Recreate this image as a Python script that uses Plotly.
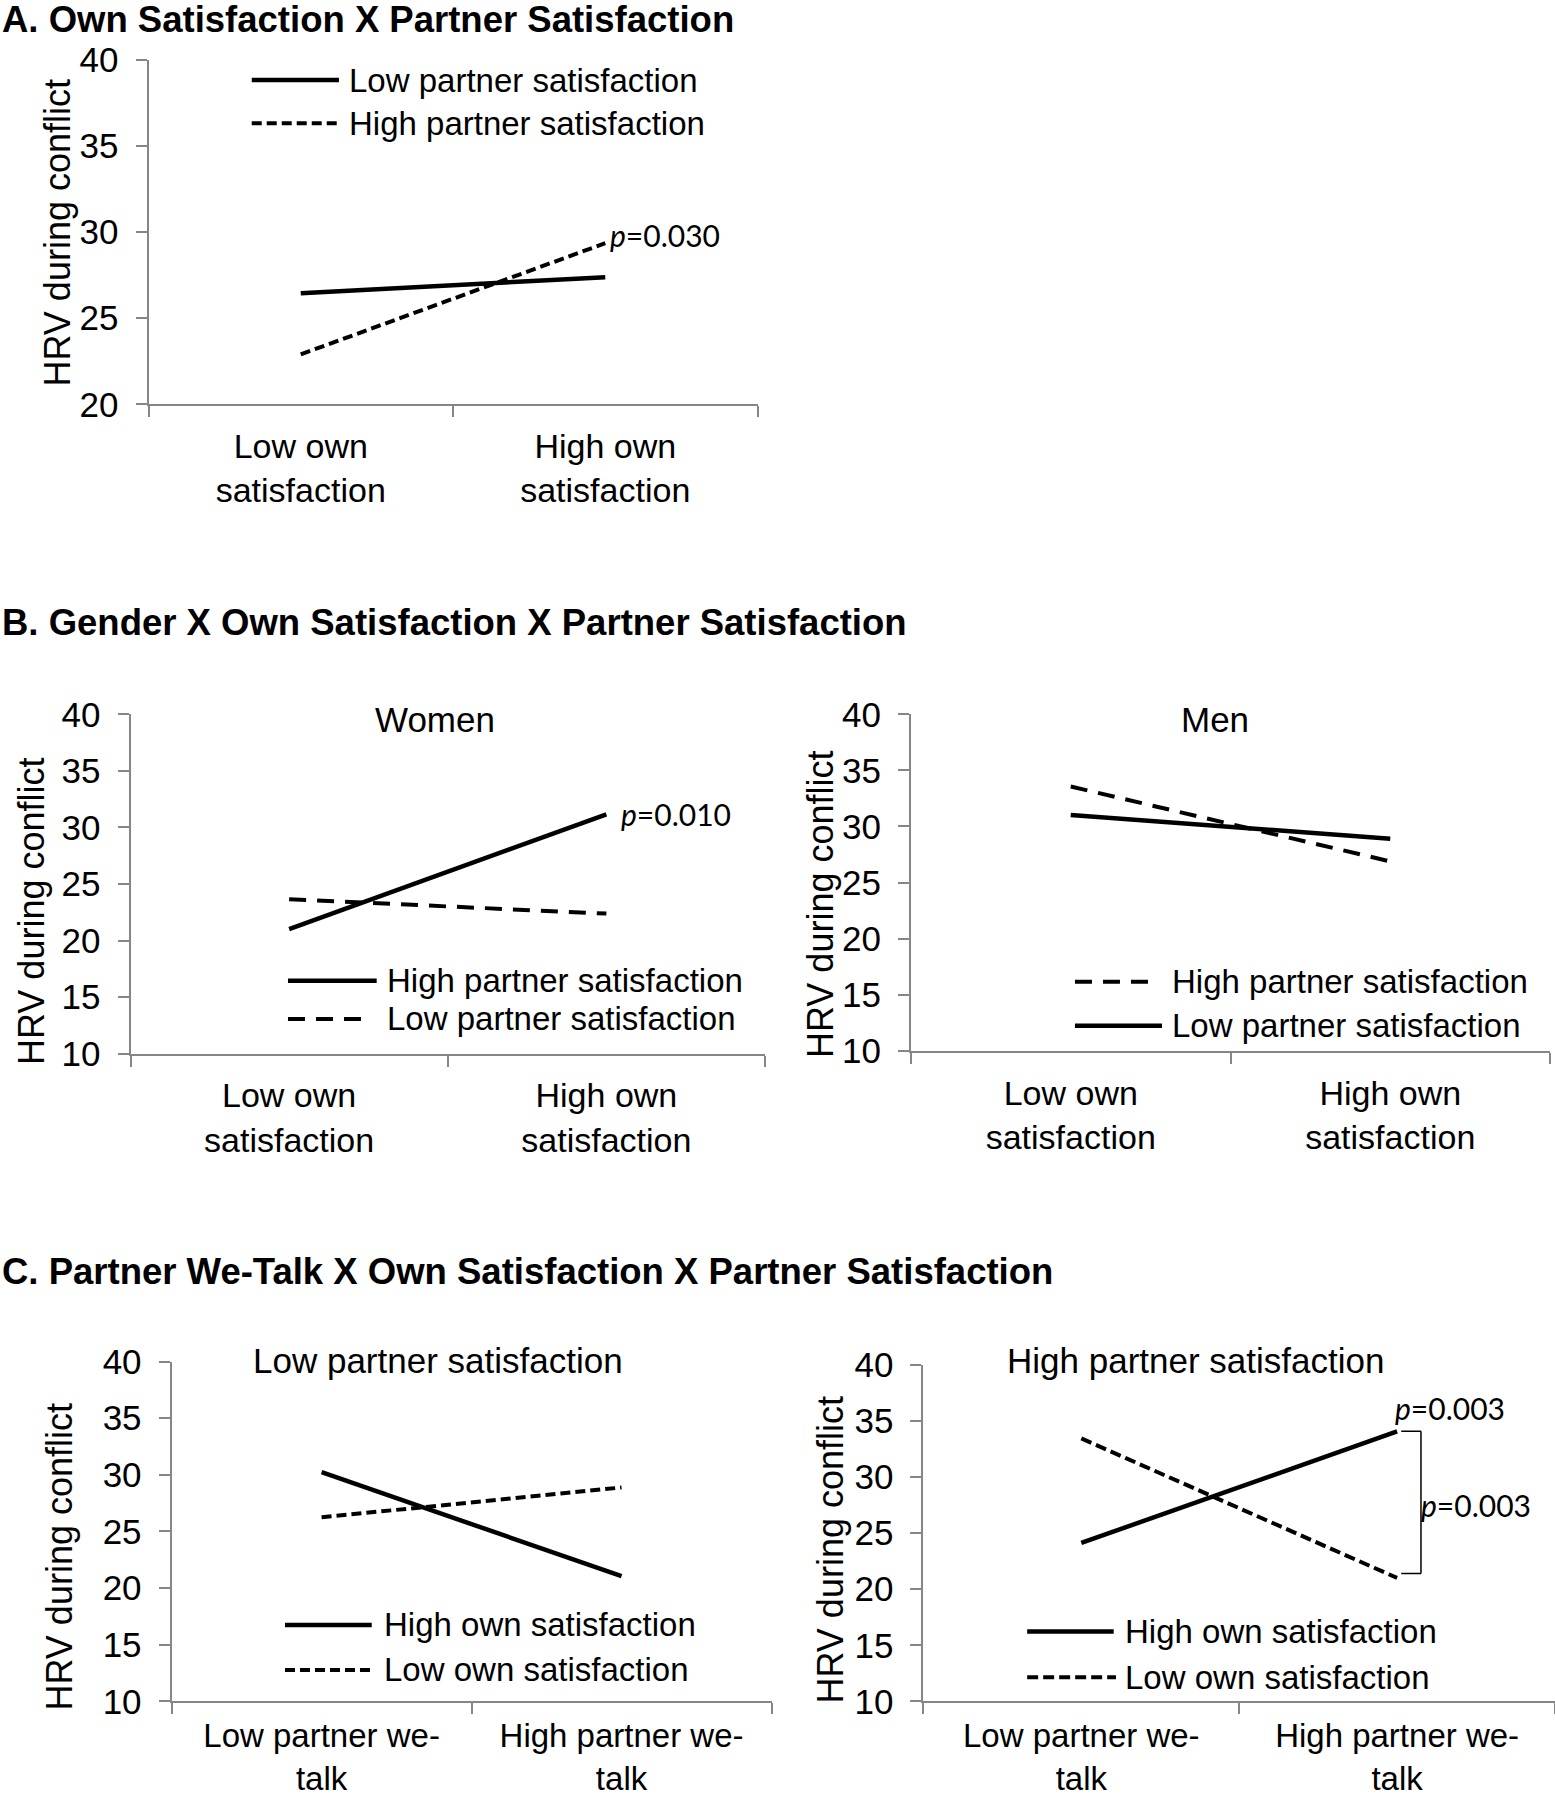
import plotly.graph_objects as go

# ---------------- data ----------------
own_cats = ["Low own<br>satisfaction", "High own<br>satisfaction"]
wetalk_cats = ["Low partner we-<br>talk", "High partner we-<br>talk"]

a_low_partner = [26.45, 27.38]
a_high_partner = [22.90, 29.36]

women_high_partner = [21.00, 31.16]
women_low_partner = [23.64, 22.38]

men_high_partner = [33.56, 26.88]
men_low_partner = [31.01, 28.90]

lowps_high_own = [30.24, 21.05]
lowps_low_own = [26.25, 28.88]

highps_high_own = [24.12, 34.06]
highps_low_own = [33.43, 21.00]

y_ticks_a = [20, 25, 30, 35, 40]
y_ticks_bc = [10, 15, 20, 25, 30, 35, 40]

panel_titles = [
    "A. Own Satisfaction X Partner Satisfaction",
    "B. Gender X Own Satisfaction X Partner Satisfaction",
    "C. Partner We-Talk X Own Satisfaction X Partner Satisfaction",
]
subtitles = ["Women", "Men", "Low partner satisfaction", "High partner satisfaction"]
y_title = "HRV during conflict"
p_labels = ["<i>p</i>=0.030", "<i>p</i>=0.010", "<i>p</i>=0.003", "<i>p</i>=0.003"]

# ---------------- layout helpers ----------------
W, H = 1555, 1800
FONT = "Liberation Sans, Arial, sans-serif"
PFONT = "Lato, Carlito, Calibri, sans-serif"
AXC = "#868686"


def xdom(a, b):
    return [a / W, b / W]


def ydom(top, bottom):
    return [1 - bottom / H, 1 - top / H]


SOLID = dict(color="black", width=4.5)
DASH_SHORT = dict(color="black", width=4, dash="10px,5px")
DASH_LONG = dict(color="black", width=4, dash="17px,11px")

# panel: (axis suffix, x0, x1, ytop, ybottom, yrange, yticks, cats, x-label size, x-label standoff, traces)
panels = [
    ("", 148.5, 757.5, 60, 404.3, [20, 40], y_ticks_a, own_cats, 34, 11,
     [("Low partner satisfaction", a_low_partner, SOLID),
      ("High partner satisfaction", a_high_partner, DASH_SHORT)]),
    ("2", 130.5, 765, 714.3, 1053.6, [10, 40], y_ticks_bc, own_cats, 34, 11,
     [("High partner satisfaction", women_high_partner, SOLID),
      ("Low partner satisfaction", women_low_partner, DASH_LONG)]),
    ("3", 911, 1550, 714.3, 1050.7, [10, 40], y_ticks_bc, own_cats, 34, 11,
     [("High partner satisfaction", men_high_partner, DASH_LONG),
      ("Low partner satisfaction", men_low_partner, SOLID)]),
    ("4", 171.6, 771.5, 1361.5, 1701.4, [10, 40], y_ticks_bc, wetalk_cats, 33, 4,
     [("High own satisfaction", lowps_high_own, SOLID),
      ("Low own satisfaction", lowps_low_own, DASH_SHORT)]),
    ("5", 923.4, 1555, 1364.7, 1701.4, [10, 40], y_ticks_bc, wetalk_cats, 33, 4,
     [("High own satisfaction", highps_high_own, SOLID),
      ("Low own satisfaction", highps_low_own, dict(color="black", width=4, dash="11px,5px"))]),
]

# legend placement per panel in axis-domain fractions: (x0, [(x1, y) per trace], text x)
legend_pos = {
    "": (0.1695, [(0.3128, 0.9419), (0.3128, 0.8161)], 0.3264),
    "2": (0.2482, [(0.388, 0.2149), (0.3664, 0.1020)], 0.4011),
    "3": (0.2566, [(0.3725, 0.2051), (0.3928, 0.0743)], 0.4061),
    "4": (0.189, [(0.3336, 0.2248), (0.3307, 0.0924)], 0.3502),
    "5": (0.1643, [(0.3013, 0.2073), (0.3049, 0.0719)], 0.3168),
}

fig = go.Figure()
shapes = []
annotations = []
layout = {}

for suf, x0, x1, yt, yb, yr, yticks, cats, xfs, xso, traces in panels:
    xa, ya = "x" + suf, "y" + suf
    for name, vals, line in traces:
        fig.add_trace(go.Scatter(x=cats, y=vals, name=name, mode="lines",
                                 line=line, showlegend=False,
                                 xaxis=xa, yaxis=ya, hoverinfo="skip"))
    layout["xaxis" + suf] = dict(
        domain=xdom(x0, x1), anchor=ya, type="category",
        categoryorder="array", categoryarray=cats,
        range=[-0.5, 1.5], showline=True, linecolor=AXC, linewidth=2,
        ticks="outside", tickson="boundaries", ticklen=11, tickwidth=2,
        tickcolor=AXC, showgrid=False, zeroline=False,
        tickfont=dict(family=FONT, size=xfs, color="black"),
        ticklabelstandoff=xso, fixedrange=True,
    )
    layout["yaxis" + suf] = dict(
        domain=ydom(yt, yb), anchor=xa, range=yr, tickmode="array",
        tickvals=yticks, showline=True, linecolor=AXC, linewidth=2,
        ticks="outside", ticklen=11, tickwidth=2, tickcolor=AXC,
        showgrid=False, zeroline=False,
        tickfont=dict(family=FONT, size=35, color="black"),
        ticklabelstandoff=10, fixedrange=True,
    )
    # legend drawn inside the plot area
    lx0, items, tx = legend_pos[suf]
    for (name, vals, line), (lx1, ly) in zip(traces, items):
        shapes.append(dict(type="line", xref=xa + " domain", yref=ya + " domain",
                           x0=lx0, x1=lx1, y0=ly, y1=ly, line=line))
        annotations.append(dict(text=name, xref=xa + " domain", yref=ya + " domain",
                                x=tx, y=ly, xanchor="left", yanchor="middle",
                                showarrow=False,
                                font=dict(family=FONT, size=33, color="black")))

# y-axis titles (rotated), paper coordinates
ytitle_pos = [(56.5, 233), (31, 912), (820, 904), (58.5, 1557), (829.5, 1550)]
for xp, yp in ytitle_pos:
    annotations.append(dict(text=y_title, xref="paper", yref="paper",
                            x=xp / W, y=1 - yp / H, xanchor="center", yanchor="middle",
                            textangle=-90, showarrow=False,
                            font=dict(family=FONT, size=36, color="black")))

# panel titles
for txt, yp in zip(panel_titles, [20, 622, 1271]):
    annotations.append(dict(text="<b>" + txt + "</b>", xref="paper", yref="paper",
                            x=0, y=1 - yp / H, xanchor="left", yanchor="middle",
                            showarrow=False,
                            font=dict(family=FONT, size=36.5, color="black")))

# subplot subtitles
sub_pos = [("2", 0.4804, 0.9844), ("3", 0.4757, 0.9842), ("4", 0.4437, 1.003), ("5", 0.4303, 1.0125)]
for txt, (suf, sx, sy) in zip(subtitles, sub_pos):
    annotations.append(dict(text=txt, xref="x" + suf + " domain", yref="y" + suf + " domain",
                            x=sx, y=sy, xanchor="center", yanchor="middle",
                            showarrow=False,
                            font=dict(family=FONT, size=35, color="black")))

# p-value labels anchored at line end points
annotations.append(dict(text=p_labels[0], xref="x", yref="y", x=own_cats[1], y=a_high_partner[1],
                        xanchor="left", yanchor="middle", xshift=3, yshift=8, showarrow=False,
                        font=dict(family=PFONT, size=30, color="black")))
annotations.append(dict(text=p_labels[1], xref="x2", yref="y2", x=own_cats[1], y=women_high_partner[1],
                        xanchor="left", yanchor="middle", xshift=13, yshift=0, showarrow=False,
                        font=dict(family=PFONT, size=30, color="black")))
annotations.append(dict(text=p_labels[2], xref="x5", yref="y5", x=wetalk_cats[1], y=highps_high_own[1],
                        xanchor="left", yanchor="middle", xshift=-4, yshift=23, showarrow=False,
                        font=dict(family=PFONT, size=30, color="black")))
annotations.append(dict(text=p_labels[3], xref="x5", yref="y5", x=wetalk_cats[1],
                        y=(highps_high_own[1] + highps_low_own[1]) / 2,
                        xanchor="left", yanchor="middle", xshift=22, yshift=0, showarrow=False,
                        font=dict(family=PFONT, size=30, color="black")))

# bracket between the two end points (panel C right)
b_top = highps_high_own[1]
b_bot = highps_low_own[1] + 0.4
bl, br = 1.013, 1.0756
for (xa0, ya0, xa1, ya1) in [(bl, b_top, br, b_top), (br, b_top, br, b_bot), (bl, b_bot, br, b_bot)]:
    shapes.append(dict(type="line", xref="x5", yref="y5", x0=xa0, y0=ya0, x1=xa1, y1=ya1,
                       line=dict(color="black", width=1.5)))

fig.update_layout(
    width=W, height=H,
    margin=dict(l=0, r=0, t=0, b=0, autoexpand=False),
    paper_bgcolor="white", plot_bgcolor="white",
    font=dict(family=FONT, size=32, color="black"),
    shapes=shapes, annotations=annotations, showlegend=False,
    **layout,
)

fig.write_html("out.html", config={"displayModeBar": False},
               post_script="document.body.style.margin='0';document.body.style.overflow='hidden';")
